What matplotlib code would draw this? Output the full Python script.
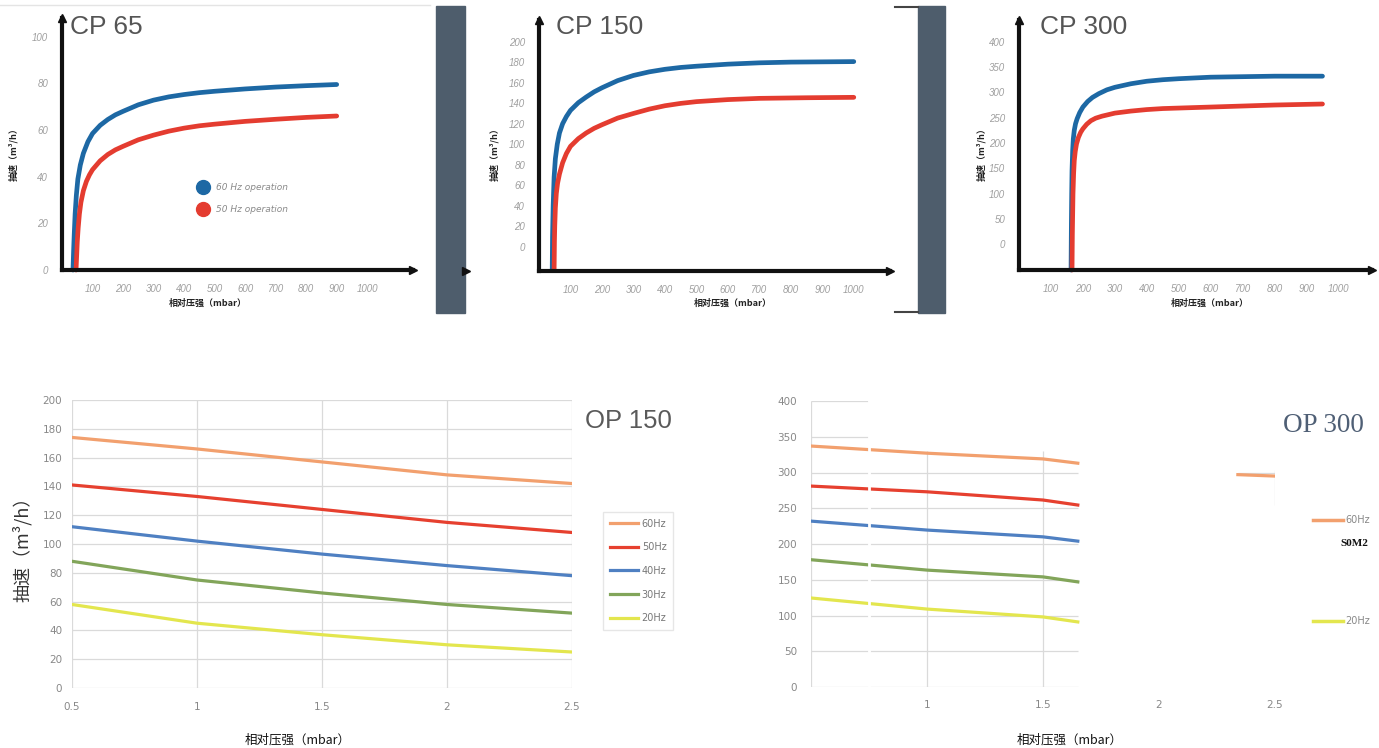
import matplotlib.pyplot as plt
from matplotlib.patches import Rectangle

W, H = 1379, 748
CJK = ['Noto Sans CJK SC', 'DejaVu Sans']

# ---- data ----
# CP curves: relative pressure (mbar) vs pumping speed (m3/h)
cp65_60_x = [36, 38, 40, 43, 47, 52, 60, 70, 85, 100, 125, 150, 175, 200, 250, 300,
             350, 400, 450, 500, 600, 700, 800, 900]
cp65_60_y = [0, 8, 15, 24, 32, 39, 45, 50, 55, 58.5, 62, 64.5, 66.5, 68, 70.8, 72.8,
             74.2, 75.2, 76, 76.6, 77.6, 78.4, 79, 79.5]
cp65_50_x = [46, 48, 50, 53, 57, 62, 70, 80, 90, 100, 125, 150, 175, 200, 250, 300,
             350, 400, 450, 500, 600, 700, 800, 900]
cp65_50_y = [0, 6, 12, 18, 24, 29, 34, 38, 40.8, 43, 46.8, 49.5, 51.5, 53, 55.8, 57.8,
             59.5, 60.8, 61.8, 62.5, 63.7, 64.6, 65.4, 66]

cp150_60_x = [42, 43, 45, 48, 52, 58, 65, 75, 87, 100, 125, 150, 175, 200, 250, 300,
              350, 400, 450, 500, 600, 700, 800, 1000]
cp150_60_y = [-23, 10, 40, 68, 86, 100, 111, 120, 127, 133, 140.5, 146, 151, 155, 162, 167,
              170.5, 173, 174.8, 176, 178, 179.3, 180, 180.5]
cp150_50_x = [48, 49, 50, 52, 55, 59, 65, 75, 87, 100, 125, 150, 175, 200, 250, 300,
              350, 400, 450, 500, 600, 700, 850, 1000]
cp150_50_y = [-23, 5, 20, 38, 52, 62, 71, 82, 91, 98, 105.5, 111, 115.5, 119, 125.5, 130,
              134.2, 137.5, 139.8, 141.5, 143.5, 144.7, 145.3, 145.7]

cp300_60_x = [163, 164, 165, 166, 168, 170, 173, 177, 182, 190, 200, 215, 230, 250, 275,
              300, 350, 400, 450, 500, 600, 700, 800, 950]
cp300_60_y = [-51, 40, 100, 145, 185, 208, 225, 238, 248, 260, 271, 282, 290, 297.5, 305,
              310, 317, 322, 325, 327, 330, 331, 332, 332]
cp300_50_x = [166, 167, 168, 169, 171, 173, 176, 180, 186, 193, 200, 212, 225, 240, 260,
              300, 350, 400, 450, 500, 600, 700, 800, 950]
cp300_50_y = [-51, 20, 60, 100, 140, 165, 183, 198, 211, 221, 228, 237, 244, 249, 253,
              259, 263, 266, 268, 269, 271, 273, 275, 277]

# OP 150
op150_x = [0.5, 1, 1.5, 2, 2.5]
op150_60 = [174, 166, 157, 148, 142]
op150_50 = [141, 133, 124, 115, 108]
op150_40 = [112, 102, 93, 85, 78]
op150_30 = [88, 75, 66, 58, 52]
op150_20 = [58, 45, 37, 30, 25]
op_labels = ['60Hz', '50Hz', '40Hz', '30Hz', '20Hz']
op_colors = ['#f2a06e', '#e6402f', '#4f80c2', '#82a55a', '#e3e64e']

# OP 300 (only the visible fragments)
op300_x = [0.5, 1, 1.5, 1.65]
op300_60 = [337, 327, 319, 313]
op300_50 = [281, 273, 261.5, 254.5]
op300_40 = [232, 219.5, 210, 204]
op300_30 = [178, 163.5, 154, 147]
op300_20 = [124.5, 109, 98, 91]
op300_frag_x = [2.34, 2.5]
op300_frag_60 = [297, 295]

fig = plt.figure(figsize=(13.79, 7.48), dpi=100)


def rect(x0, y0, x1, y1):
    return [x0 / W, 1 - y1 / H, (x1 - x0) / W, (y1 - y0) / H]


# background layer for the decorative bits
bg = fig.add_axes([0, 0, 1, 1])
bg.set_xlim(0, W)
bg.set_ylim(H, 0)
bg.axis('off')
bg.set_zorder(-1)
bg.add_patch(Rectangle((436, 6), 29, 307, color='#4e5d6c'))
bg.add_patch(Rectangle((918, 6), 27, 307, color='#4e5d6c'))
bg.plot([895, 918], [7, 7], color='#444', lw=1.5)
bg.plot([895, 918], [312, 312], color='#444', lw=1.5)
bg.plot([0, 430], [5, 5], color='#e4e4e4', lw=1)
bg.plot([466], [271], marker='>', color='#111', ms=6)


def cp_panel(box, xmax, ylim, yticks, title, curves, ylab_x, xlab_x, title_x):
    ax = fig.add_axes(rect(*box))
    ax.set_facecolor('none')
    for (x, y, c) in curves:
        ax.plot(x, y, color=c, lw=3.4, solid_capstyle='round',
                solid_joinstyle='round', clip_on=False)
    ax.set_xlim(0, xmax)
    ax.set_ylim(*ylim)
    ax.set_xticks(range(100, 1001, 100))
    ax.set_yticks(yticks)
    ax.tick_params(length=0, labelsize=7, labelcolor='#9f9f9f', pad=10)
    for t in ax.get_xticklabels() + ax.get_yticklabels():
        t.set_fontstyle('italic')
        t.set_family('Liberation Sans')
    for s in ['top', 'right']:
        ax.spines[s].set_visible(False)
    for s in ['left', 'bottom']:
        ax.spines[s].set_linewidth(3)
        ax.spines[s].set_color('#111')
    ax.plot(1, 0, '>', color='#111', ms=6, transform=ax.transAxes, clip_on=False)
    ax.plot(0, 1, '^', color='#111', ms=6, transform=ax.transAxes, clip_on=False)
    fig.text(title_x / W, 1 - 27 / H, title, fontsize=19, color='#555',
             family='Liberation Sans', va='center', ha='left')
    fig.text(ylab_x / W, 1 - 152 / H, '抽速（m³/h）', rotation=90, fontsize=6.5,
             fontweight='bold', family=CJK, ha='center', va='center', color='#222')
    fig.text(xlab_x / W, 1 - 303 / H, '相对压强（mbar）', fontsize=6.5,
             fontweight='bold', family=CJK, ha='center', va='center', color='#222')
    return ax


blue, red = '#1d68a4', '#e43c30'
ax1 = cp_panel((62, 18, 413, 270), 1150, (0, 108), range(0, 101, 20), 'CP 65',
               [(cp65_60_x, cp65_60_y, blue), (cp65_50_x, cp65_50_y, red)],
               14, 208, 70)
ax1.plot([0.402], [0.328], 'o', color=blue, ms=10, transform=ax1.transAxes)
ax1.plot([0.402], [0.241], 'o', color=red, ms=10, transform=ax1.transAxes)
ax1.text(0.44, 0.328, '60 Hz operation', transform=ax1.transAxes, fontsize=6.5,
         style='italic', color='#8a8a8a', va='center')
ax1.text(0.44, 0.241, '50 Hz operation', transform=ax1.transAxes, fontsize=6.5,
         style='italic', color='#8a8a8a', va='center')

cp_panel((539, 20, 890, 271), 1115, (-23.4, 221), range(0, 201, 20), 'CP 150',
         [(cp150_60_x, cp150_60_y, blue), (cp150_50_x, cp150_50_y, red)],
         495, 733, 556)

cp_panel((1019, 20, 1372, 270), 1105, (-51, 443), range(0, 401, 50), 'CP 300',
         [(cp300_60_x, cp300_60_y, blue), (cp300_50_x, cp300_50_y, red)],
         982, 1210, 1040)

# ---- OP 150 ----
ax4 = fig.add_axes(rect(72, 400, 572, 688))
ax4.set_facecolor('none')
for y, c, lab in zip([op150_60, op150_50, op150_40, op150_30, op150_20], op_colors, op_labels):
    ax4.plot(op150_x, y, color=c, lw=2.3, label=lab)
ax4.set_xlim(0.5, 2.5)
ax4.set_ylim(0, 200)
ax4.set_xticks(op150_x)
ax4.set_xticklabels(['0.5', '1', '1.5', '2', '2.5'])
ax4.set_yticks(range(0, 201, 20))
ax4.grid(True, color='#dadada', lw=0.9)
ax4.set_axisbelow(True)
for s in ax4.spines.values():
    s.set_visible(False)
ax4.tick_params(length=0, labelsize=7.5, labelcolor='#888')
ax4.tick_params(axis='x', pad=10)
ax4.tick_params(axis='y', pad=7)
leg = ax4.legend(loc='upper left', bbox_to_anchor=(598 / W, 1 - 507 / H),
                 bbox_transform=fig.transFigure, fontsize=7, frameon=True,
                 fancybox=False, edgecolor='#e0e0e0', handlelength=2.9,
                 labelspacing=1.4, handletextpad=0.4, borderpad=0.7)
for t in leg.get_texts():
    t.set_color('#777')
fig.text(585 / W, 1 - 421 / H, 'OP 150', fontsize=18.5, color='#5a5a5a',
         family='Liberation Sans', va='center', ha='left')
fig.text(22 / W, 1 - 545 / H, '抽速（m³/h）', rotation=90, fontsize=13,
         family=CJK, ha='center', va='center', color='#333')
fig.text(298 / W, 1 - 740 / H, '相对压强（mbar）', fontsize=9, family=CJK,
         ha='center', va='center', color='#111')

# ---- OP 300 ----
ax5 = fig.add_axes(rect(811, 401, 1275, 687))
ax5.set_facecolor('none')
ax5.set_xlim(0.5, 2.5)
ax5.set_ylim(0, 400)
gc = '#dadada'
ax5.hlines(range(0, 401, 50), 0.5, 0.745, color=gc, lw=0.9)
ax5.hlines(range(0, 301, 50), 0.755, 1.65, color=gc, lw=0.9)
ax5.vlines([0.5], 0, 400, color=gc, lw=0.9)
ax5.vlines([1, 1.5], 0, 330, color=gc, lw=0.9)
ax5.vlines([2.5], 255, 303, color=gc, lw=0.9)
ax5.hlines([300], 2.34, 2.5, color=gc, lw=0.9)
for y, c in zip([op300_60, op300_50, op300_40, op300_30, op300_20], op_colors):
    ax5.plot(op300_x, y, color=c, lw=2.3)
ax5.plot(op300_frag_x, op300_frag_60, color=op_colors[0], lw=2.3)
ax5.axvline(0.75, color='white', lw=2, zorder=5)
ax5.set_xticks([1, 1.5, 2, 2.5])
ax5.set_xticklabels(['1', '1.5', '2', '2.5'])
ax5.set_yticks(range(0, 401, 50))
for s in ax5.spines.values():
    s.set_visible(False)
ax5.tick_params(length=0, labelsize=7.5, labelcolor='#888')
ax5.tick_params(axis='x', pad=9)
ax5.tick_params(axis='y', pad=10)
fig.text(1283 / W, 1 - 426 / H, 'OP 300', fontsize=19.5, color='#4f5f75',
         family='Liberation Serif', va='center', ha='left')
fig.text(1070 / W, 1 - 740 / H, '相对压强（mbar）', fontsize=9, family=CJK,
         ha='center', va='center', color='#111')

# legend fragments of OP 300
bg.plot([1313, 1343], [520, 520], color=op_colors[0], lw=2.5)
bg.text(1345, 520, '60Hz', fontsize=7, color='#888', va='center')
bg.plot([1313, 1343], [621, 621], color=op_colors[4], lw=2.5)
bg.text(1345, 621, '20Hz', fontsize=7, color='#888', va='center')
bg.text(1340, 544, 'S0M2', fontsize=8, color='#111', va='center',
        family='Liberation Serif', fontweight='bold')

fig.savefig('out.png', dpi=100)
